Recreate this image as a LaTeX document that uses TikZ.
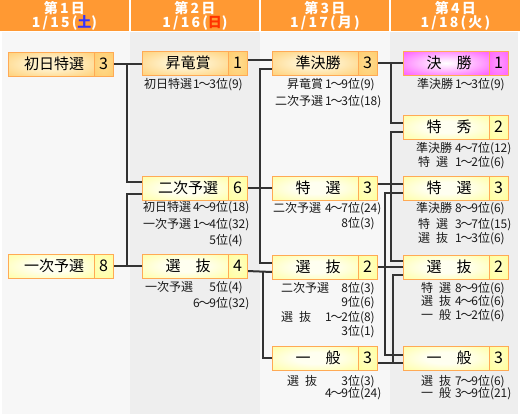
\documentclass[tikz,border=0pt]{standalone}
\usepackage{fontspec}
\setmainfont{Noto Sans CJK JP}
\newfontfamily\hdfont[LetterSpace=16]{Noto Sans CJK JP}
\usetikzlibrary{calc}
\pgfdeclarelayer{back}
\pgfsetlayers{back,main}
\definecolor{hdr}{HTML}{FF9933}
\definecolor{bgA}{HTML}{F7F7F7}
\definecolor{bgB}{HTML}{EEEEEE}
\definecolor{lc}{HTML}{333333}
\definecolor{bord}{HTML}{FFAA55}
\definecolor{txt}{HTML}{1A1A1A}
\definecolor{sat}{HTML}{3333FF}
\definecolor{sun}{HTML}{FF3300}
\definecolor{yelI}{HTML}{FFFFF0}
\definecolor{yelO}{HTML}{FFFF80}
\definecolor{orI}{HTML}{FFF0C8}
\definecolor{orO}{HTML}{FFC254}
\definecolor{mgI}{HTML}{FFE0FF}
\definecolor{mgO}{HTML}{FF44FF}
\definecolor{ynI}{HTML}{FFFFC8}
\definecolor{ynO}{HTML}{FFFF88}
\definecolor{onI}{HTML}{FFDC90}
\definecolor{onO}{HTML}{FFC660}
\definecolor{mnI}{HTML}{FF99FF}
\definecolor{mnO}{HTML}{FF50FF}
\pgfdeclareradialshading{ysh}{\pgfpoint{0bp}{0bp}}{color(0bp)=(yelI); color(12bp)=(yelI); color(48bp)=(yelO); color(50bp)=(yelO)}
\pgfdeclareradialshading{osh}{\pgfpoint{0bp}{0bp}}{color(0bp)=(orI); color(12bp)=(orI); color(46bp)=(orO); color(50bp)=(orO)}
\pgfdeclareradialshading{msh}{\pgfpoint{0bp}{0bp}}{color(0bp)=(white); color(8bp)=(mgI); color(40bp)=(mgO); color(50bp)=(mgO)}
\pgfdeclareradialshading{ynsh}{\pgfpoint{0bp}{0bp}}{color(0bp)=(ynI); color(50bp)=(ynO)}
\pgfdeclareradialshading{onsh}{\pgfpoint{0bp}{0bp}}{color(0bp)=(onI); color(50bp)=(onO)}
\pgfdeclareradialshading{mnsh}{\pgfpoint{0bp}{0bp}}{color(0bp)=(mnI); color(50bp)=(mnO)}
\tikzset{
  mainbox/.style={draw=bord, line width=0.8pt, anchor=north west, minimum width=86pt, minimum height=24pt, inner sep=0pt, outer sep=0pt, text height=12.5pt, text depth=1.7pt, font=\fontsize{15}{15}\selectfont},
  numbox/.style={draw=bord, line width=0.8pt, anchor=north west, minimum width=19pt, minimum height=24pt, inner sep=0pt, outer sep=0pt, text height=13.2pt, text depth=1.5pt, font=\fontsize{16}{16}\selectfont},
  ybox/.style={shade, shading=ysh},
  obox/.style={shade, shading=osh},
  mbox/.style={shade, shading=msh},
  ynbox/.style={shade, shading=ynsh},
  onbox/.style={shade, shading=onsh},
  mnbox/.style={shade, shading=mnsh},
  lab/.style={inner sep=0pt, outer sep=0pt, text=txt, font=\fontsize{12}{12}\selectfont, text height=10pt, text depth=1.4pt},
  hd/.style={inner sep=0pt, outer sep=0pt, text=white, font=\hdfont\bfseries\fontsize{14}{14}\selectfont, text height=11pt, text depth=1.5pt},
  conn/.style={draw=lc, line width=2pt},
}
\newcommand\mybx[7]{%
  \node[mainbox,#6] (#1) at (#2,#3) {\hspace{6pt}#4};
  \node[numbox,#7] (#1n) at (#1.north east) {#5};}
\newcommand\labrow[7]{%
  \node[lab, anchor=west] (#1a) at (#2,#4) {#5};
  \node[lab, anchor=east] (#1b) at (#3,#4) {#6};
  \node[lab, anchor=west] (#1c) at (#3,#4) {#7};}
\newcommand\labrank[5]{%
  \node[lab, anchor=east] (#1b) at (#2,#3) {#4};
  \node[lab, anchor=west] (#1c) at (#2,#3) {#5};}
\newcommand\myspc{\hspace{6pt}}
\newcommand\wv{\kern-1.2pt〜\kern-1.2pt}
\begin{document}
\begin{tikzpicture}[x=1pt,y=-1pt]
\useasboundingbox (0,0) rectangle (520,415);
\begin{pgfonlayer}{back}
\fill[white] (0,0) rectangle (520,415);
\fill[hdr] (0,0) rectangle (129,31);
\fill[hdr] (131,0) rectangle (259,31);
\fill[hdr] (261,0) rectangle (389,31);
\fill[hdr] (391,0) rectangle (520,31);
\fill[bgA] (2,32) rectangle (130,414);
\fill[bgB] (130,32) rectangle (260,414);
\fill[bgA] (260,32) rectangle (390,414);
\fill[bgB] (390,32) rectangle (518,414);
\end{pgfonlayer}
% headers
\node[hd] (h1a) at (64.5,9) {第1日};
\node[hd] (h1b) at (64.5,22.5) {1/15(\textcolor{sat}{土})};
\node[hd] (h2a) at (195,9) {第2日};
\node[hd] (h2b) at (195,22.5) {1/16(\textcolor{sun}{日})};
\node[hd] (h3a) at (325,9) {第3日};
\node[hd] (h3b) at (325,22.5) {1/17(月)};
\node[hd] (h4a) at (455.5,9) {第4日};
\node[hd] (h4b) at (455.5,22.5) {1/18(火)};
% boxes
\mybx{c1a}{8}{52}{初日特選}{3}{obox}{onbox}
\mybx{c1b}{8}{254}{一次予選}{8}{ybox}{ynbox}
\mybx{c2a}{142}{51}{昇竜賞}{1}{obox}{onbox}
\mybx{c2b}{142}{176}{二次予選}{6}{ybox}{ynbox}
\mybx{c2c}{142}{254}{選　抜}{4}{ybox}{ynbox}
\mybx{c3a}{272}{51}{準決勝}{3}{obox}{onbox}
\mybx{c3b}{272}{176}{特　選}{3}{ybox}{ynbox}
\mybx{c3c}{272}{255}{選　抜}{2}{ybox}{ynbox}
\mybx{c3d}{272}{346}{一　般}{3}{ybox}{ynbox}
\mybx{c4a}{403}{51}{決　勝}{1}{mbox}{mnbox}
\mybx{c4b}{403}{115}{特　秀}{2}{ybox}{ynbox}
\mybx{c4c}{403}{176}{特　選}{3}{ybox}{ynbox}
\mybx{c4d}{403}{255}{選　抜}{2}{ybox}{ynbox}
\mybx{c4e}{403}{346}{一　般}{3}{ybox}{ynbox}
% labels column 2
\labrow{l21}{144}{228}{84}{初日特選}{1\wv 3位}{(9)}
\labrow{l22}{143}{228}{207}{初日特選}{4\wv 9位}{(18)}
\labrow{l23}{143}{228}{224}{一次予選}{1\wv 4位}{(32)}
\labrank{l24}{228}{240}{5位}{(4)}
\labrow{l25}{145}{228}{287}{一次予選}{5位}{(4)}
\labrank{l26}{228}{303}{6\wv 9位}{(32)}
% labels column 3
\labrow{l31}{287}{360}{84}{昇竜賞}{1\wv 9位}{(9)}
\labrow{l32}{275}{360}{101}{二次予選}{1\wv 3位}{(18)}
\labrow{l33}{273}{360}{208}{二次予選}{4\wv 7位}{(24)}
\labrank{l34}{360}{223}{8位}{(3)}
\labrow{l35}{281}{360}{288}{二次予選}{8位}{(3)}
\labrank{l36}{360}{302}{9位}{(6)}
\labrow{l37}{281}{360}{317}{選\myspc 抜}{1\wv 2位}{(8)}
\labrank{l38}{360}{331}{3位}{(1)}
\labrow{l39}{287}{360}{381}{選\myspc 抜}{3位}{(3)}
\labrank{l30}{360}{393}{4\wv 9位}{(24)}
% labels column 4
\labrow{l41}{417}{490}{84}{準決勝}{1\wv 3位}{(9)}
\labrow{l42}{416}{490}{148}{準決勝}{4\wv 7位}{(12)}
\labrow{l43}{418}{490}{162}{特\myspc 選}{1\wv 2位}{(6)}
\labrow{l44}{416}{490}{208}{準決勝}{8\wv 9位}{(6)}
\labrow{l45}{418}{490}{224}{特\myspc 選}{3\wv 7位}{(15)}
\labrow{l46}{418}{490}{238}{選\myspc 抜}{1\wv 3位}{(6)}
\labrow{l47}{421}{490}{288}{特\myspc 選}{8\wv 9位}{(6)}
\labrow{l48}{421}{490}{301}{選\myspc 抜}{4\wv 6位}{(6)}
\labrow{l49}{421}{490}{315}{一\myspc 般}{1\wv 2位}{(6)}
\labrow{l4a}{421}{490}{381}{選\myspc 抜}{7\wv 9位}{(6)}
\labrow{l4b}{421}{490}{393}{一\myspc 般}{3\wv 9位}{(21)}
% connectors
\begin{pgfonlayer}{back}
\draw[conn] (c1an.east) -- (c1an.east -| c2a.west);
\draw[conn] ($(c1an.east)+(14,0)$) |- ($(c2b.west)+(0,-6)$);
\draw[conn] (c1bn.east) -- (c1bn.east -| c2c.west);
\draw[conn] ($(c1bn.east)+(14,0)$) |- ($(c2b.west)+(0,6)$);
\draw[conn] ($(c2an.east)+(0,-3)$) -- ($(c3a.west)+(0,-3)$);
\draw[conn] ($(c3a.west)+(0,6)$) -- ++(-12,0) |- ($(c3c.west)+(0,-4)$);
\draw[conn] (c2bn.east) -- (c2bn.east -| c3b.west);
\draw[conn] ($(c2cn.east)+(0,5)$) -- ($(c3c.west)+(0,5)$);
\draw[conn] ($(c2cn.east)+(16,5)$) |- (c3d.west);
\draw[conn] (c3an.east) -- (c3an.east -| c4a.west);
\draw[conn] ($(c3an.east)+(14,0)$) |- ($(c4b.west)+(0,-4)$);
\draw[conn] ($(c3bn.east)+(0,-4)$) -- ($(c4c.west)+(0,-4)$);
\draw[conn] ($(c4b.west)+(0,5)$) -| ($(c4d.west)+(-12,-6)$) -- ($(c4d.west)+(0,-6)$);
\draw[conn] (c3cn.east) -- (c3cn.east -| c4d.west);
\draw[conn] ($(c4c.west)+(0,5)$) -| ($(c4e.west)+(-18,-3)$) -- ($(c4e.west)+(0,-3)$);
\draw[conn] ($(c3dn.east)+(0,5)$) -- ($(c4e.west)+(0,5)$);
\draw[conn] ($(c4d.west)+(0,8)$) -| ($(c4e.west)+(-10,5)$);
\end{pgfonlayer}
\end{tikzpicture}
\end{document}
